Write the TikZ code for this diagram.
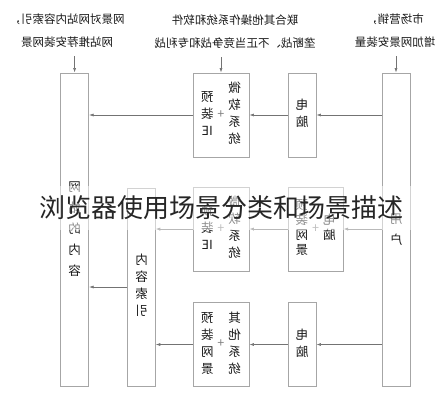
\documentclass[tikz,border=0pt]{standalone}
\usepackage{fontspec}
\usepackage{graphicx}
\newfontfamily\cjk{Noto Sans CJK SC}
\usetikzlibrary{positioning,arrows.meta}

% one column of characters, read top to bottom
\newcommand{\vcol}[1]{\begin{tabular}[c]{@{}c@{}}#1\end{tabular}}
% the whole picture is printed mirrored
\newcommand{\mirror}[1]{\reflectbox{\begin{tabular}{@{}c@{}}#1\end{tabular}}}
\newcommand{\pair}[2]{\reflectbox{\vcol{#1}\hspace{4pt}{\color{gray}+}\hspace{4pt}\vcol{#2}}}

\tikzset{
  box/.style={draw=gray!70,line width=0.9pt,minimum width=28pt,inner sep=0pt,
    font=\cjk\fontsize{12.5}{17}\selectfont,text=black!90},
  flow/.style={draw=black!55,line width=0.6pt,-{Latex[length=4.5pt,width=3pt]}},
  note/.style={font=\cjk\fontsize{11.5}{23}\selectfont,text=black!90,inner sep=3pt},
}

\begin{document}
\begin{tikzpicture}[x=1pt,y=-1pt]
    \useasboundingbox (0,0) rectangle (443,400);
    % tall boxes
    \node[box,minimum height=313pt] (web) at (74.6,229.5)
        {\raisebox{-7pt}{\reflectbox{\fontsize{12.5}{21}\selectfont\vcol{网\\站\\的\\内\\容}}}};
    \node[box,minimum height=313pt] (user) at (396,229.5)
        {\raisebox{9pt}{\reflectbox{\fontsize{12.5}{21}\selectfont\vcol{用\\户}}}};
    \node[box,minimum width=27.6pt,minimum height=198pt] (idx) at (141.5,287)
        {\reflectbox{\vcol{内\\容\\索\\引}}};
    % systems
    \node[box,minimum width=56pt,minimum height=84pt] (sysA) at (221,115)
        {\pair{微\\软\\系\\统}{预\\装\\IE}};
    \node[box,minimum width=56pt,minimum height=84pt] (sysB) at (221,229)
        {\pair{微\\软\\系\\统}{预\\装\\IE}};
    \node[box,minimum width=56pt,minimum height=84pt] (sysC) at (221,344.5)
        {\pair{其\\他\\系\\统}{预\\装\\网\\景}};
    % computers
    \node[box,minimum height=84pt] (pcA) at (302,115) {\reflectbox{\vcol{电\\脑}}};
    \node[box,minimum width=55pt,minimum height=84pt] (pcB) at (315.7,229)
        {\reflectbox{\fontsize{12.5}{15}\selectfont\vcol{电\\脑}\hspace{4pt}{\color{gray}+}\hspace{4pt}\vcol{预\\装\\网\\景}}};
    \node[box,minimum height=84pt] (pcC) at (302,344.5) {\reflectbox{\vcol{电\\脑}}};
    % notes on top
    \node[note] (lblA) at (67,30) {\mirror{网景对网站内容索引，\\网站推荐安装网景}};
    \node[note] (lblB) at (235,31) {\mirror{联合其他操作系统和软件\\垄断战、不正当竞争战和专利战}};
    \node[note] (lblC) at (395,30) {\mirror{市场营销，\\增加网景安装量}};

    \draw[flow] (web.north |- lblA.south) -- (web.north);
    \draw[flow] (sysA.north |- lblB.south) -- (sysA.north);
    \draw[flow] (user.north |- lblC.south) -- (user.north);
    % flows from the user
    \draw[flow] (user.west |- pcA) -- (pcA);
    \draw[flow] (user.west |- pcB) -- (pcB);
    \draw[flow] (user.west |- pcC) -- (pcC);
    \draw[flow] (pcA) -- (sysA);
    \draw[flow] (pcB) -- (sysB);
    \draw[flow] (pcC) -- (sysC);
    \draw[flow] (sysA.west) -- (sysA.west -| web.east);
    \draw[flow] (sysB.west) -- (sysB.west -| idx.east);
    \draw[flow] (sysC.west) -- (sysC.west -| idx.east);
    \draw[flow] (idx.west) -- (idx.west -| web.east);

    % caption laid over the picture
    \node[font=\cjk\fontsize{26}{26}\selectfont,text=black!85,fill=white,fill opacity=0.5,
        text opacity=1,minimum width=380pt,minimum height=44pt] (mark) at (221,208)
        {浏览器使用场景分类和场景描述};
\end{tikzpicture}
\end{document}
